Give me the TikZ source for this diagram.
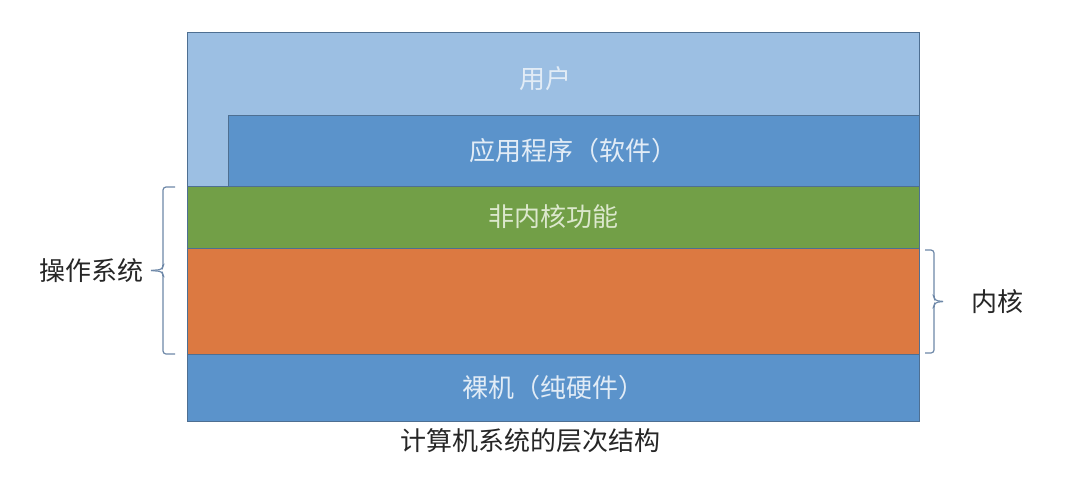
\documentclass[tikz,border=0pt]{standalone}
\usepackage{fontspec}
\setmainfont{Noto Sans CJK SC}
\usepackage{tikz}
\usetikzlibrary{positioning}
\usetikzlibrary{calc}
\definecolor{userblue}{HTML}{9CBFE3}
\definecolor{appblue}{HTML}{5B93CB}
\definecolor{nkgreen}{HTML}{729F47}
\definecolor{krnlorange}{HTML}{DC7941}
\definecolor{edgeblue}{HTML}{4E6F92}
\definecolor{bracegray}{HTML}{6E88A8}
\definecolor{softwhite}{HTML}{E2ECF6}
\definecolor{softgreen}{HTML}{DCE8CD}
\definecolor{inkgray}{HTML}{262626}

\begin{document}
\begin{tikzpicture}[x=1pt,y=-1pt]
    \tikzstyle{layer}=[rectangle,draw=edgeblue,line width=0.8pt,inner sep=0pt,outer sep=0pt,anchor=north west]
    \tikzstyle{every node}=[font=\fontsize{26pt}{30pt}\selectfont]
    \tikzstyle{brc}=[draw=bracegray,line width=1.2pt,rounded corners=3pt]
    \useasboundingbox (0,0) rectangle (1089,482);
    \fill[white] (0,0) rectangle (1089,482);
    \node[layer,fill=userblue,minimum width=732pt,minimum height=154pt] (user) at (187,32) {};
    \node[text=softwhite] (userlbl) at (545,79) {用户};
    \node[layer,fill=appblue,minimum width=691pt,minimum height=71pt] (app) at (228,115) {};
    \node[text=softwhite] at (app.center) {应用程序（软件）};
    \node[layer,fill=nkgreen,minimum width=732pt,minimum height=62pt] (nk) at (user.south west) {};
    \node[text=softgreen] at (nk.center) {非内核功能};
    \node[layer,fill=krnlorange,minimum width=732pt,minimum height=106pt] (krnl) at (nk.south west) {};
    \node[layer,fill=appblue,minimum width=732pt,minimum height=67pt] (bare) at (krnl.south west) {};
    \node[text=softwhite] at (bare.center) {裸机（纯硬件）};
    \node[text=inkgray] (cap) at (530,441) {计算机系统的层次结构};
    \coordinate (ostop) at ($(nk.north west)+(-12,1)$);
    \coordinate (osbot) at ($(krnl.south west)+(-12,0)$);
    \coordinate (ostip) at ($(ostop)!0.5!(osbot)+(-24,0)$);
    \draw[brc] (ostop) -| ($(ostip)+(12,-4)$) -- ($(ostip)+(11,-1)$) -- (ostip);
    \draw[brc] (ostip) -- ($(ostip)+(11,1)$) -- ($(ostip)+(12,4)$) |- (osbot);
    \node[text=inkgray,inner sep=0pt,anchor=east] (oslbl) at ($(ostip)+(-7,0)$) {操作系统};
    \coordinate (krtop) at ($(krnl.north east)+(6,2)$);
    \coordinate (krbot) at ($(krnl.south east)+(6,-1)$);
    \coordinate (krtip) at ($(krtop)!0.5!(krbot)+(18,0)$);
    \draw[brc] (krtop) -| ($(krtip)+(-9,-4)$) -- ($(krtip)+(-8,-1)$) -- (krtip);
    \draw[brc] (krtip) -- ($(krtip)+(-8,1)$) -- ($(krtip)+(-9,4)$) |- (krbot);
    \node[text=inkgray,inner sep=0pt,anchor=west] (krlbl) at ($(krtip)+(28,0)$) {内核};
\end{tikzpicture}
\end{document}
